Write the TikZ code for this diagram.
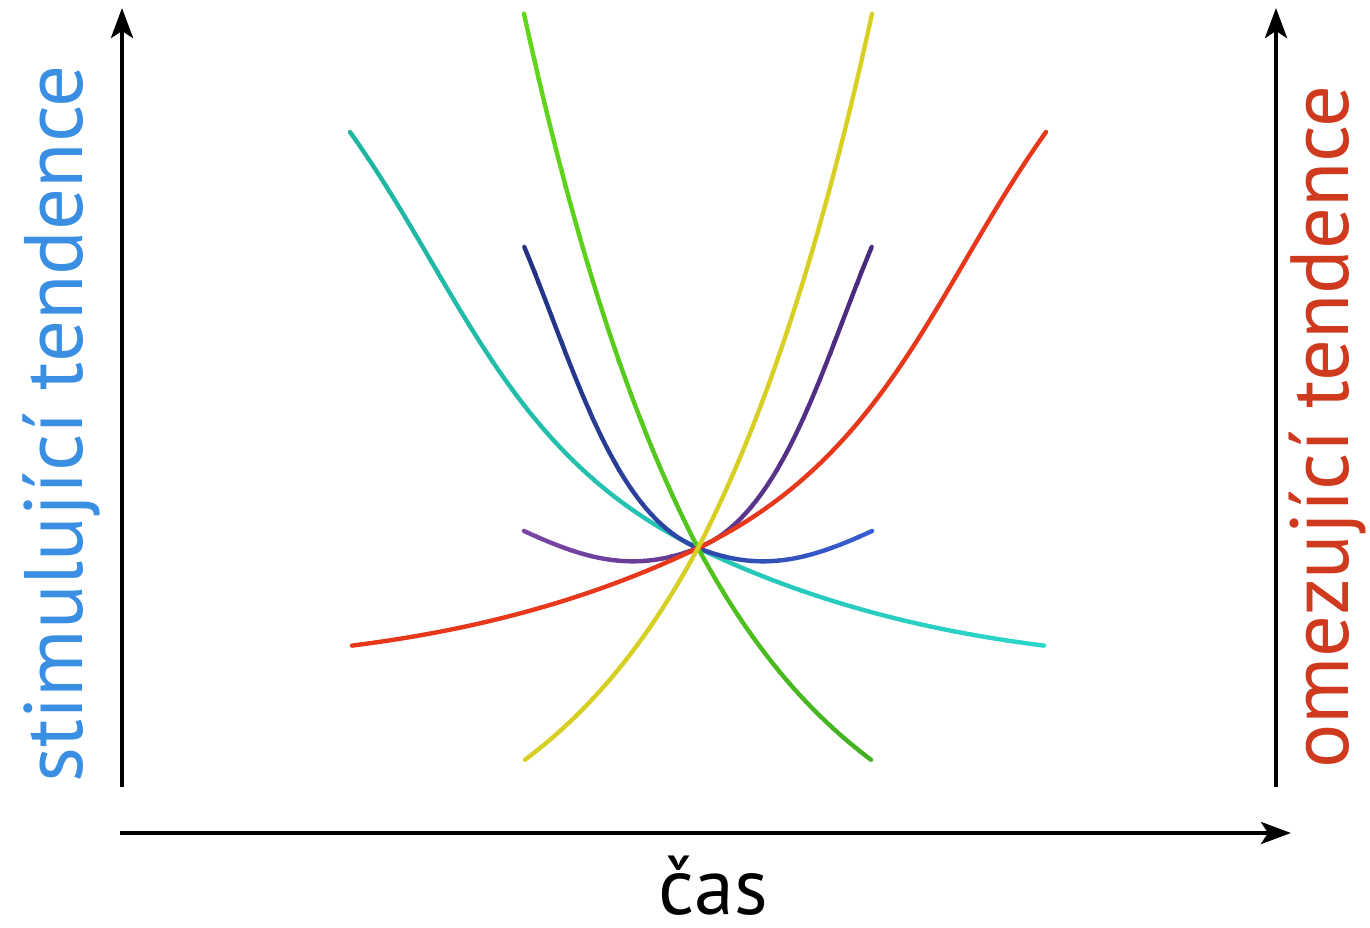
\documentclass[tikz,border=0pt]{standalone}
\usepackage{fontspec}
\setmainfont{PT Sans}
\usepackage{graphicx}
\usetikzlibrary{arrows.meta}
\definecolor{cred}{HTML}{E8381B}
\definecolor{cyanA}{HTML}{2CD6CB}
\definecolor{cyanB}{HTML}{1FB5A0}
\definecolor{greenA}{HTML}{3FAE22}
\definecolor{greenB}{HTML}{62D81A}
\definecolor{cyellow}{HTML}{D8CF24}
\definecolor{blueA}{HTML}{3A5FD6}
\definecolor{blueB}{HTML}{22317F}
\definecolor{purpA}{HTML}{7B47A8}
\definecolor{purpB}{HTML}{48297C}
\definecolor{lblue}{HTML}{3B8FE3}
\definecolor{lred}{HTML}{CF3A1E}
% curve drawn in x-bands with a colour running from #1 (left) to #2 (right)
\newcommand\gradcurve[5]{%
  \foreach \i in {0,...,13}{%
    \pgfmathsetmacro\xa{#3+(#4-#3)*\i/14-0.7}%
    \pgfmathsetmacro\xb{#3+(#4-#3)*(\i+1)/14+0.7}%
    \pgfmathtruncatemacro\pc{100-100*(\i+0.5)/14}%
    \begin{scope}
      \clip (\xa,-1000) rectangle (\xb,1000);
      \draw[curve,color=#1!\pc!#2] #5;
    \end{scope}
  }%
}
\begin{document}
\begin{tikzpicture}[x=1pt,y=-1pt,
  axis/.style={line width=4.2pt,-{Stealth[length=30pt,width=22pt,inset=7pt]}},
  curve/.style={line width=4.4pt,line cap=round,line join=round}]
\useasboundingbox (0,0) rectangle (1370,928);
% axes
\coordinate (L0) at (122,787);
\coordinate (L1) at (122,8);
\coordinate (R0) at (1276,787);
\coordinate (R1) at (1276,8);
\coordinate (H0) at (120,833);
\coordinate (H1) at (1291,833);
\draw[axis] (L0) -- (L1);
\draw[axis] (R0) -- (R1);
\draw[axis] (H0) -- (H1);
% labels
\node[rotate=90,anchor=base,inner sep=0,text=lblue] (stim) at (82,424)
  {\resizebox{717pt}{!}{stimulující tendence}};
\node[rotate=90,anchor=base,inner sep=0,text=lred] (omez) at (1348,427)
  {\resizebox{683pt}{!}{omezující tendence}};
\node[anchor=base,inner sep=0,text depth=0pt] (cas) at (713,914) {\fontsize{80}{90}\selectfont čas};
% curves
\coordinate (C) at (698,548);
\begin{scope}[shift={(C)},yscale=-1]
  % cyan (mirror of red)
  \begin{scope}[xscale=-1]
    \gradcurve{cyanA}{cyanB}{-360}{362}{(-346,-97.6) .. controls (-231,-83.1) and (-115,-55.2) .. (0,0) .. controls (190,91.2) and (238,262) .. (348,416)}
  \end{scope}
  % blue (mirror of purple)
  \begin{scope}[xscale=-1]
    \gradcurve{blueA}{blueB}{-188}{188}{(-174,17) .. controls (-114,-10.6) and (-65,-26) .. (0,0) .. controls (85,34) and (123.7,181) .. (173.7,301)}
  \end{scope}
  % green (mirror of yellow)
  \begin{scope}[xscale=-1]
    \gradcurve{greenA}{greenB}{-187}{188}{plot[domain=-173:174,samples=100] (\x,{(\x<0) ? 353*(exp(0.00529*\x)-1) : 390*(exp(0.004965*\x)-1)})}
  \end{scope}
  % purple
  \gradcurve{purpA}{purpB}{-188}{188}{(-174,17) .. controls (-114,-10.6) and (-65,-26) .. (0,0) .. controls (85,34) and (123.7,181) .. (173.7,301)}
  % red
  \draw[curve,cred] (-346,-97.6) .. controls (-231,-83.1) and (-115,-55.2) .. (0,0) .. controls (190,91.2) and (238,262) .. (348,416);
  % yellow
  \draw[curve,cyellow] plot[domain=-173:174,samples=100] (\x,{(\x<0) ? 353*(exp(0.00529*\x)-1) : 390*(exp(0.004965*\x)-1)});
\end{scope}
\end{tikzpicture}
\end{document}
